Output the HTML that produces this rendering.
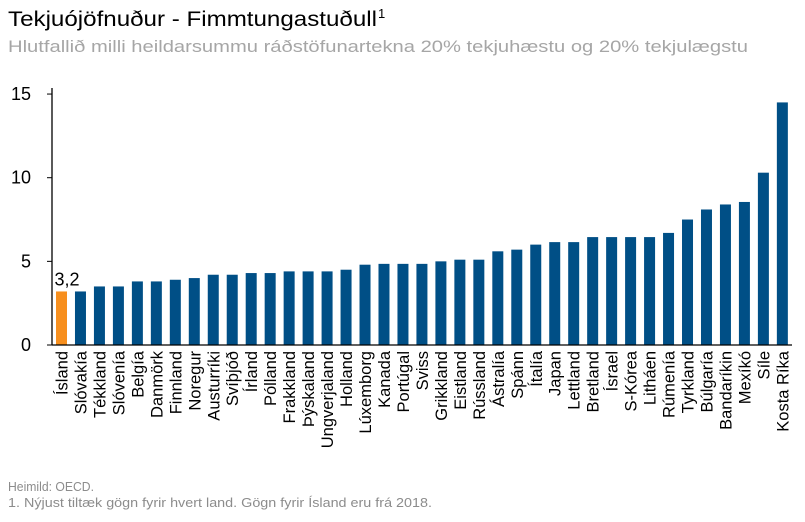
<!DOCTYPE html>
<html><head><meta charset="utf-8"><style>
body{margin:0;background:#fff;font-family:"Liberation Sans","DejaVu Sans",sans-serif;}
svg text{font-family:"Liberation Sans","DejaVu Sans",sans-serif;}
</style></head><body>
<svg id="c" width="805" height="517">
<text x="8" y="26" font-size="21" fill="#000" textLength="369" lengthAdjust="spacingAndGlyphs">Tekjuójöfnuður - Fimmtungastuðull</text>
<text x="378" y="18" font-size="13" fill="#000">1</text>
<text x="8" y="52" font-size="17" fill="#a6a6a6" textLength="740" lengthAdjust="spacingAndGlyphs">Hlutfallið milli heildarsummu ráðstöfunartekna 20% tekjuhæstu og 20% tekjulægstu</text>
<text x="8" y="491" font-size="13" fill="#8c8c8c" textLength="86" lengthAdjust="spacingAndGlyphs">Heimild: OECD.</text>
<text x="8" y="507" font-size="13" fill="#8c8c8c" textLength="424" lengthAdjust="spacingAndGlyphs">1. Nýjust tiltæk gögn fyrir hvert land. Gögn fyrir Ísland eru frá 2018.</text>
<g id="plot"></g>
</svg>
<script>
const categories=["Ísland","Slóvakía","Tékkland","Slóvenía","Belgía","Danmörk","Finnland","Noregur","Austurríki","Svíþjóð","Írland","Pólland","Frakkland","Þýskaland","Ungverjaland","Holland","Lúxemborg","Kanada","Portúgal","Sviss","Grikkland","Eistland","Rússland","Ástralía","Spánn","Ítalía","Japan","Lettland","Bretland","Ísrael","S-Kórea","Litháen","Rúmenía","Tyrkland","Búlgaría","Bandaríkin","Mexíkó","Síle","Kosta Ríka"];
const values=[3.2,3.2,3.5,3.5,3.8,3.8,3.9,4.0,4.2,4.2,4.3,4.3,4.4,4.4,4.4,4.5,4.8,4.85,4.85,4.85,5.0,5.1,5.1,5.6,5.7,6.0,6.15,6.15,6.45,6.45,6.45,6.45,6.7,7.5,8.1,8.4,8.55,10.3,14.5];
const yTicks=[0,5,10,15];
const highlightIndex=0;
const NS="http://www.w3.org/2000/svg";
const g=document.getElementById('plot');
const y0=345,pxPerUnit=16.73,x0=52,band=18.97,bw=11,firstCenter=61.5;
const yScale=v=>y0-v*pxPerUnit;
const xScale=i=>firstCenter+i*band;
function mk(t,a){const e=document.createElementNS(NS,t);for(const k in a)e.setAttribute(k,a[k]);g.appendChild(e);return e;}
yTicks.forEach(t=>{
  const l=mk('line',{x1:x0-5,x2:x0,y1:yScale(t),y2:yScale(t),stroke:'#000','stroke-width':1});
  
  
  const tx=mk('text',{x:31,y:yScale(t)+6,'font-size':18,'text-anchor':'end',fill:'#000'});
  tx.textContent=t;
  
  
});
values.forEach((v,i)=>{
  const r=mk('rect',{x:xScale(i)-bw/2,y:yScale(v),width:bw,height:v*pxPerUnit,fill:i===highlightIndex?'#f78f1e':'#004f86'});
  
  
  const t=mk('text',{x:0,y:0,'font-size':16.5,'text-anchor':'end',fill:'#000',transform:`translate(${xScale(i)+6},351) rotate(-90)`});
  t.textContent=categories[i];
  
  
});
const lab=mk('text',{x:xScale(highlightIndex)-7,y:yScale(values[highlightIndex])-6,'font-size':18,fill:'#000'});
lab.textContent=String(values[highlightIndex]).replace('.',',');


const ya=mk('line',{x1:x0,x2:x0,y1:88,y2:y0,stroke:'#000','stroke-width':1.3});


const xa=mk('line',{x1:x0,x2:792,y1:y0,y2:y0,stroke:'#000','stroke-width':1.3});


</script>
</body></html>
